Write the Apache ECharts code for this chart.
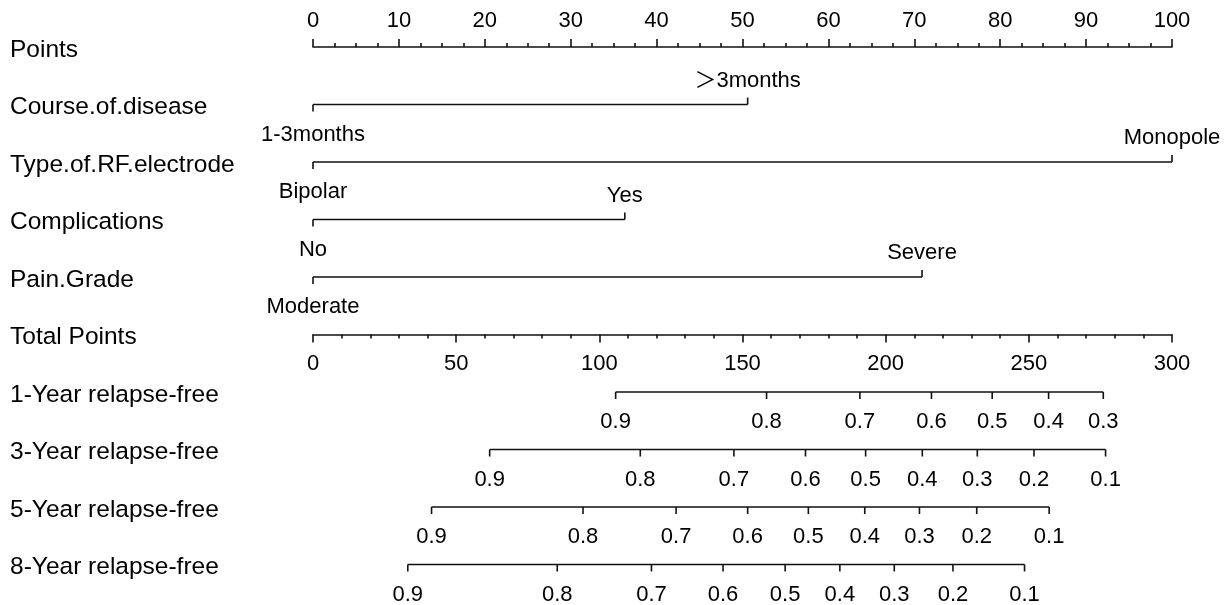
<!DOCTYPE html>
<html>
<head>
<meta charset="utf-8">
<script src="https://cdn.jsdelivr.net/npm/echarts@6/dist/echarts.min.js"></script>
<style>
  html, body { margin: 0; padding: 0; background: #fff; }
  #chart { width: 1226px; height: 605px; }
</style>
</head>
<body>
<div id="chart"></div>
<script>
// Row titles, top to bottom
const rowLabels = [
  'Points', 'Course.of.disease', 'Type.of.RF.electrode', 'Complications',
  'Pain.Grade', 'Total Points', '1-Year relapse-free', '3-Year relapse-free',
  '5-Year relapse-free', '8-Year relapse-free'
];

// Predictor levels and the points each level contributes
const courseLevels = ['1-3months', '＞3months'];
const coursePoints = [0, 50.6];
const electrodeLevels = ['Bipolar', 'Monopole'];
const electrodePoints = [0, 100];
const complicationLevels = ['No', 'Yes'];
const complicationPoints = [0, 36.3];
const painLevels = ['Moderate', 'Severe'];
const painPoints = [0, 70.9];

// Relapse-free probability scales: tick labels and their total-point positions
const oneYearProbs = ['0.9', '0.8', '0.7', '0.6', '0.5', '0.4', '0.3'];
const oneYearTotals = [105.7, 158.4, 191.0, 216.0, 237.2, 256.9, 276.0];
const laterProbs = ['0.9', '0.8', '0.7', '0.6', '0.5', '0.4', '0.3', '0.2', '0.1'];
const threeYearTotals = [61.7, 114.3, 147.0, 172.0, 193.0, 212.8, 232.0, 251.8, 276.8];
const fiveYearTotals = [41.4, 94.3, 126.8, 151.8, 173.0, 192.7, 211.8, 231.8, 257.1];
const eightYearTotals = [33.1, 85.3, 118.2, 143.2, 164.9, 184.0, 203.0, 223.5, 248.5];

const factorRows = [
  { row: 1, levels: courseLevels, points: coursePoints },
  { row: 2, levels: electrodeLevels, points: electrodePoints },
  { row: 3, levels: complicationLevels, points: complicationPoints },
  { row: 4, levels: painLevels, points: painPoints }
];
const probRows = [
  { row: 6, labels: oneYearProbs, totals: oneYearTotals },
  { row: 7, labels: laterProbs, totals: threeYearTotals },
  { row: 8, labels: laterProbs, totals: fiveYearTotals },
  { row: 9, labels: laterProbs, totals: eightYearTotals }
];

const FONT = '"Liberation Sans", Arial, "Noto Sans CJK SC", sans-serif';
const INK = '#111';
const LW = 1.6;
const TICK = 7;
const SMALL = 22;

function textEl(x, y, str) {
  return {
    type: 'text',
    style: {
      x: x, y: y, text: str, fill: '#000',
      font: SMALL + 'px ' + FONT, align: 'center', verticalAlign: 'middle'
    }
  };
}
function lineEl(x1, y1, x2, y2) {
  return {
    type: 'line',
    shape: { x1: x1, y1: y1, x2: x2, y2: y2 },
    style: { stroke: INK, lineWidth: LW }
  };
}

// Categorical predictors: a segment from the first to the last level,
// ticks alternating down / up with the level name beside each tick
function renderFactor(params, api) {
  const f = factorRows[params.dataIndex];
  const row = f.row;
  const a = api.coord([f.points[0], row]);
  const b = api.coord([f.points[f.points.length - 1], row]);
  const children = [lineEl(a[0], a[1], b[0], b[1])];
  f.points.forEach(function (p, j) {
    const c = api.coord([p, row]);
    const down = j % 2 === 0;
    children.push(lineEl(c[0], c[1], c[0], c[1] + (down ? TICK : -TICK)));
    children.push(textEl(c[0], c[1] + (down ? 30 : -24), f.levels[j]));
  });
  return { type: 'group', children: children };
}

// Probability scales placed on the total-points axis
function renderProb(params, api) {
  const r = probRows[params.dataIndex];
  const row = r.row;
  const a = api.coord([r.totals[0], row]);
  const b = api.coord([r.totals[r.totals.length - 1], row]);
  const children = [lineEl(a[0], a[1], b[0], b[1])];
  r.totals.forEach(function (t, j) {
    const c = api.coord([t, row]);
    children.push(lineEl(c[0], c[1], c[0], c[1] + TICK));
    children.push(textEl(c[0], c[1] + 30, r.labels[j]));
  });
  return { type: 'group', children: children };
}

const chart = echarts.init(document.getElementById('chart'), null, { renderer: 'canvas' });

const rowGap = 57.5;
const option = {
  animation: false,
  backgroundColor: '#fff',
  textStyle: { fontFamily: FONT },
  grid: {
    left: 313, width: 859, top: 47, height: rowGap * 9,
    containLabel: false, outerBoundsMode: 'none'
  },
  xAxis: [
    {
      type: 'value', min: 0, max: 100, interval: 10, position: 'top',
      axisLine: { show: true, onZero: false, lineStyle: { color: INK, width: LW } },
      axisTick: { show: true, length: 8, lineStyle: { color: INK, width: LW } },
      minorTick: { show: true, splitNumber: 4, length: 4, lineStyle: { color: INK, width: LW } },
      splitLine: { show: false },
      minorSplitLine: { show: false },
      axisLabel: { fontSize: SMALL, color: '#000', fontFamily: FONT, margin: 15 }
    },
    {
      type: 'value', min: 0, max: 300, interval: 50, position: 'bottom',
      offset: -rowGap * 4,
      axisLine: { show: true, onZero: false, lineStyle: { color: INK, width: LW } },
      axisTick: { show: true, length: 8, lineStyle: { color: INK, width: LW } },
      minorTick: { show: true, splitNumber: 5, length: 4, lineStyle: { color: INK, width: LW } },
      splitLine: { show: false },
      minorSplitLine: { show: false },
      axisLabel: { fontSize: SMALL, color: '#000', fontFamily: FONT, margin: 18 }
    }
  ],
  yAxis: {
    type: 'value', min: 0, max: 9, interval: 1, inverse: true,
    axisLine: { show: false }, axisTick: { show: false }, splitLine: { show: false },
    axisLabel: {
      align: 'left', margin: 303, fontSize: 24.5, color: '#000', fontFamily: FONT,
      verticalAlign: 'top', lineHeight: 6,
      formatter: function (v) { return rowLabels[v] || ''; }
    }
  },
  series: [
    {
      type: 'custom', coordinateSystem: 'cartesian2d', xAxisIndex: 0, yAxisIndex: 0,
      renderItem: renderFactor, silent: true,
      data: factorRows.map(function (f) { return [0, f.row]; })
    },
    {
      type: 'custom', coordinateSystem: 'cartesian2d', xAxisIndex: 1, yAxisIndex: 0,
      renderItem: renderProb, silent: true,
      data: probRows.map(function (r) { return [r.totals[0], r.row]; })
    }
  ]
};
chart.setOption(option);
</script>
</body>
</html>
